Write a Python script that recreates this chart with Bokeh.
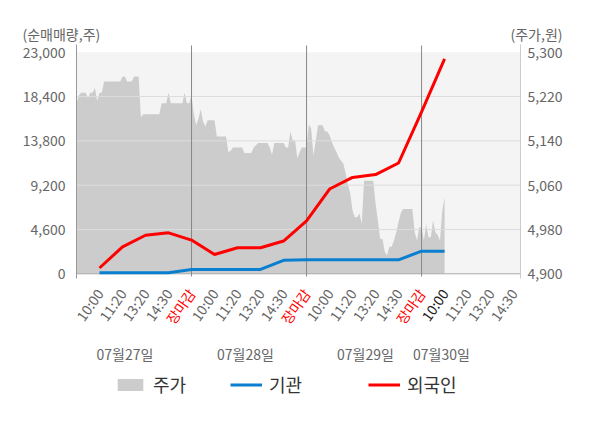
from bokeh.plotting import figure
from bokeh.models import Range1d, Legend, LegendItem
from bokeh.embed import file_html
from bokeh.resources import INLINE
from bokeh.core.properties import value

FONT = "Noto Sans CJK KR"

# ---------------- data ----------------
tick_labels = ["10:00", "11:20", "13:20", "14:30", "장마감",
               "10:00", "11:20", "13:20", "14:30", "장마감",
               "10:00", "11:20", "13:20", "14:30", "장마감",
               "10:00", "11:20", "13:20", "14:30"]
date_labels = ["07월27일", "07월28일", "07월29일", "07월30일"]

# net buying volume (shares), one value per tick slot 1..16
foreign = [600, 2800, 4000, 4250, 3500, 2000, 2700, 2700, 3400,
           5500, 8800, 10000, 10300, 11500, 16800, 22300]
institution = [100, 100, 100, 100, 450, 450, 450, 450, 1400,
               1450, 1450, 1450, 1450, 1450, 2350, 2350]

# stock price (won), sampled every 0.1 tick slot from slot 0 to 16
price = [5208, 5222, 5227, 5227, 5227, 5217, 5227, 5227, 5236, 5212,
         5227, 5227, 5247, 5247, 5247, 5247, 5247, 5247, 5247, 5247,
         5256, 5256, 5247, 5247, 5247, 5256, 5256, 5256, 5182, 5188,
         5188, 5188, 5188, 5188, 5188, 5188, 5188, 5208, 5208, 5208,
         5227, 5208, 5208, 5208, 5208, 5208, 5208, 5227, 5208, 5208,
         5222, 5189, 5168, 5180, 5197, 5175, 5166, 5177, 5177, 5177,
         5177, 5148, 5148, 5148, 5148, 5148, 5120, 5122, 5128, 5128,
         5128, 5128, 5128, 5118, 5118, 5118, 5118, 5128, 5132, 5136,
         5136, 5136, 5136, 5136, 5128, 5115, 5136, 5136, 5136, 5136,
         5136, 5128, 5128, 5157, 5141, 5141, 5108, 5120, 5128, 5128,
         5128, 5170, 5162, 5114, 5140, 5168, 5168, 5168, 5157, 5157,
         5150, 5138, 5128, 5120, 5110, 5104, 5099, 5081, 5060, 5045,
         5014, 5002, 5002, 5009, 4991, 5068, 5068, 5068, 5068, 5068,
         5027, 4996, 4963, 4963, 4940, 4933, 4949, 4949, 4960, 4975,
         4994, 5010, 5017, 5017, 5017, 5017, 5017, 4975, 4960, 4984,
         4984, 4960, 4990, 4966, 4966, 4996, 4975, 4970, 4960, 5014,
         5038]

volume_ticks = [0, 4600, 9200, 13800, 18400, 23000]
price_ticks = [4900, 4980, 5060, 5140, 5220, 5300]

# ---------------- layout (pixels of the 584x412 canvas) ----------------
W, H = 584, 412
PLOT_L, PLOT_R = 76, 520          # horizontal extent of the data area
Y_ZERO, Y_TOP = 273.3, 51.7       # pixel rows of the lowest / highest tick
X_END = 19.3                      # slots across the data area
SAMPLE_STEP = 0.1
current_session_index = 15

px_per_slot = (PLOT_R - PLOT_L) / X_END
vol_scale = (Y_ZERO - Y_TOP) / (volume_ticks[-1] - volume_ticks[0])
prc_scale = (Y_ZERO - Y_TOP) / (price_ticks[-1] - price_ticks[0])


def sx(px):
    return (px - PLOT_L) / px_per_slot


def sy(py):
    return volume_ticks[0] + (Y_ZERO - py) / vol_scale


tick_x = list(range(1, len(tick_labels) + 1))
line_x = list(range(1, len(foreign) + 1))
price_x = [i * SAMPLE_STEP for i in range(len(price))]
close_x = [x for x, t in zip(tick_x, tick_labels) if t == "장마감"]
date_label_x = [sx(124.5), sx(245), sx(365), sx(441)]

tick_colors = []
for i, t in enumerate(tick_labels):
    if t == "장마감":
        tick_colors.append("#ff0000")
    elif i == current_session_index:
        tick_colors.append("#222222")
    else:
        tick_colors.append("#666666")

C_AREA, C_INST, C_FOR = "#cccccc", "#0a7fd0", "#ff0000"
GRAY_TXT = "#666666"

p = figure(width=W, height=H, output_backend="svg", toolbar_location=None,
           x_range=Range1d(sx(0), sx(W)), y_range=Range1d(sy(H), sy(0)),
           x_axis_location=None, y_axis_location=None, min_border=0,
           outline_line_color=None, background_fill_color="white", border_fill_color="white")
p.grid.visible = False
p.extra_y_ranges = {"price": Range1d(price_ticks[0] - (H - Y_ZERO) / prc_scale,
                                     price_ticks[0] + Y_ZERO / prc_scale)}

# plot-area background band
p.quad(left=[0], right=[X_END], bottom=[volume_ticks[0]], top=[volume_ticks[-1]],
       fill_color="#f4f4f4", line_color=None)

# price area (right scale)
area = p.varea(x=price_x, y1=[price_ticks[0]] * len(price), y2=price,
               fill_color=C_AREA, y_range_name="price")

# horizontal grid lines
inner = volume_ticks[1:-1]
p.segment(x0=[0] * len(inner), x1=[X_END] * len(inner), y0=inner, y1=inner,
          line_color="#dddddd", line_width=1)
p.segment(x0=[0], x1=[X_END], y0=[volume_ticks[0]], y1=[volume_ticks[0]],
          line_color="#aaaaaa", line_width=1)
# session separators and axis lines
p.segment(x0=close_x, x1=close_x, y0=[sy(276)] * len(close_x), y1=[sy(45)] * len(close_x),
          line_color="#888888", line_width=1)
p.segment(x0=[0], x1=[0], y0=[sy(278)], y1=[sy(44)], line_color="#999999", line_width=1)
p.segment(x0=[X_END], x1=[X_END], y0=[sy(278)], y1=[sy(44)], line_color="#cccccc", line_width=1)

inst_r = p.line(line_x, institution, line_color=C_INST, line_width=3)
for_r = p.line(line_x, foreign, line_color=C_FOR, line_width=3)

# y tick labels
p.text(x=[sx(PLOT_L - 11)] * len(volume_ticks), y=volume_ticks,
       text=[f"{v:,}" for v in volume_ticks], text_align="right", text_baseline="middle",
       text_color=GRAY_TXT, text_font=value(FONT), text_font_size="14px")
p.text(x=[sx(PLOT_R + 7)] * len(price_ticks), y=price_ticks,
       text=[f"{v:,}" for v in price_ticks], text_align="left", text_baseline="middle",
       text_color=GRAY_TXT, text_font=value(FONT), text_font_size="14px",
       y_range_name="price")

# unit captions
p.text(x=[sx(22)], y=[sy(33)], text=["(순매매량,주)"], text_align="left",
       text_baseline="middle", text_color=GRAY_TXT, text_font=value(FONT), text_font_size="14px")
p.text(x=[sx(562)], y=[sy(33)], text=["(주가,원)"], text_align="right",
       text_baseline="middle", text_color=GRAY_TXT, text_font=value(FONT), text_font_size="14px")

# x tick labels (rotated) and dates
p.text(x=tick_x, y=[sy(290)] * len(tick_x), text=tick_labels, angle=55, angle_units="deg",
       text_align="right", text_baseline="middle", text_color=tick_colors,
       text_font=value(FONT), text_font_size="14px")
p.text(x=date_label_x, y=[sy(353)] * len(date_labels), text=date_labels,
       text_align="center", text_baseline="middle", text_color=GRAY_TXT,
       text_font=value(FONT), text_font_size="14px")

# legends
for label, rend, loc in [("주가", area, (114, 15)), ("기관", inst_r, (230, 15)),
                         ("외국인", for_r, (368, 15))]:
    lg = Legend(items=[LegendItem(label=label, renderers=[rend])], location=loc,
                orientation="horizontal", padding=0, margin=0, spacing=0,
                border_line_color=None, background_fill_alpha=0,
                glyph_width=32, glyph_height=15, label_standoff=7, label_height=22,
                label_text_font=FONT, label_text_font_size="18px", label_text_color="#333333")
    p.add_layout(lg)

open("out.html", "w").write(file_html(p, INLINE))
